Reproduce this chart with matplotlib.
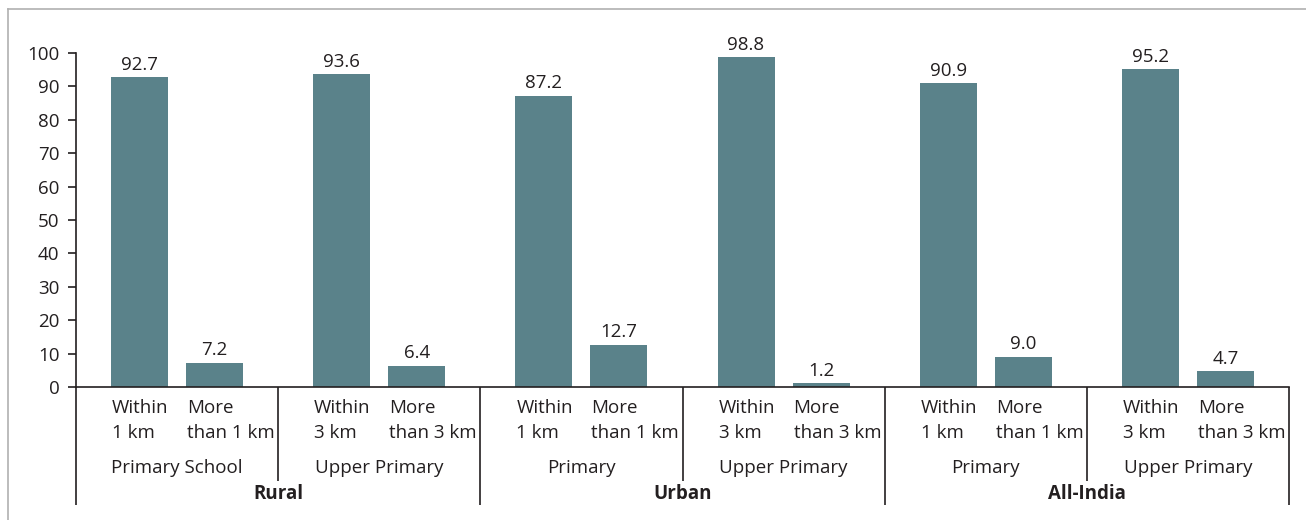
import matplotlib.pyplot as plt
import matplotlib.lines as mlines

# Share of households by distance to nearest school
regions = ["Rural", "Urban", "All-India"]
school_levels = ["Primary School", "Upper Primary", "Primary", "Upper Primary",
                 "Primary", "Upper Primary"]
near_labels = [("Within", "1 km"), ("Within", "3 km")] * 3
far_labels = [("More", "than 1 km"), ("More", "than 3 km")] * 3
near_values = [92.7, 93.6, 87.2, 98.8, 90.9, 95.2]
far_values = [7.2, 6.4, 12.7, 1.2, 9.0, 4.7]
y_ticks = [0, 10, 20, 30, 40, 50, 60, 70, 80, 90, 100]

BAR = "#5a828a"
INK = "#231f20"
FONT = "Open Sans"
FS = 13.5

W, H = 1306, 520
fig = plt.figure(figsize=(W / 100, H / 100), dpi=100)
ax_left, ax_right = 76 / W, 1289 / W
ax_bottom, ax_top = 1 - 387 / H, 1 - 53 / H
ax = fig.add_axes([ax_left, ax_bottom, ax_right - ax_left, ax_top - ax_bottom])

# light frame around the figure (top and left edges)
fig.add_artist(mlines.Line2D([8 / W, 8 / W], [0, 1 - 9 / H], color="#b0b0b0", lw=1.2))
fig.add_artist(mlines.Line2D([8 / W, 1], [1 - 9 / H, 1 - 9 / H], color="#b0b0b0", lw=1.2))

n = len(near_values)
offset = 37.5 / 202
width = 57 / 202
centers = [i + 0.5 for i in range(n)]
near_x = [c - offset for c in centers]
far_x = [c + offset for c in centers]

b1 = ax.bar(near_x, near_values, width=width, color=BAR)
b2 = ax.bar(far_x, far_values, width=width, color=BAR)

for bars, vals in ((b1, near_values), (b2, far_values)):
    for rect, v in zip(bars, vals):
        ax.annotate(f"{v:.1f}", (rect.get_x() + rect.get_width() / 2, v),
                    xytext=(0, 2.5), textcoords="offset points",
                    ha="center", va="bottom", fontsize=FS, color=INK, family=FONT)

ax.set_xlim(0, n)
ax.set_ylim(0, 100)
ax.set_yticks(y_ticks)
ax.set_yticklabels([str(t) for t in y_ticks], fontsize=FS, color=INK, family=FONT)
ax.set_xticks([])
ax.tick_params(axis="y", direction="out", length=6, width=1.2, color=INK, pad=6)
for side in ("top", "right"):
    ax.spines[side].set_visible(False)
for side in ("left", "bottom"):
    ax.spines[side].set_color(INK)
    ax.spines[side].set_linewidth(1.2)

axh = 387 - 53
def yfrac(py):
    return -(py - 387) / axh

tr = ax.get_xaxis_transform()
# category labels under each bar, left-aligned with the bar edge
for i in range(n):
    for x, (l1, l2) in ((near_x[i], near_labels[i]), (far_x[i], far_labels[i])):
        xl = x - width / 2 + 1 / 202
        ax.text(xl, yfrac(408), l1, transform=tr, ha="left", va="center",
                fontsize=FS, color=INK, family=FONT, clip_on=False)
        ax.text(xl, yfrac(433), l2, transform=tr, ha="left", va="center",
                fontsize=FS, color=INK, family=FONT, clip_on=False)
    ax.text(centers[i], yfrac(468), school_levels[i], transform=tr, ha="center",
            va="center", fontsize=FS, color=INK, family=FONT, clip_on=False)

for j, r in enumerate(regions):
    ax.text(2 * j + 1, yfrac(494), r, transform=tr, ha="center", va="center",
            fontsize=FS, fontweight="bold", color=INK, family=FONT, clip_on=False)

# separator lines between groups
for k in range(n + 1):
    bottom = 505 if k % 2 == 0 else 481
    ax.plot([k, k], [0, yfrac(bottom)], transform=tr, color=INK, lw=1.2,
            clip_on=False, solid_capstyle="butt")

fig.savefig("out.png", dpi=100)
